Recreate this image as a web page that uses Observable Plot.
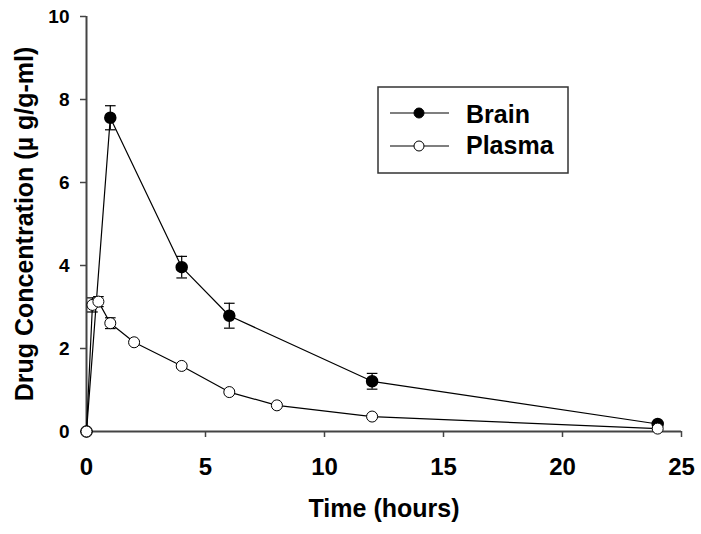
<!DOCTYPE html>
<html>
<head>
<meta charset="utf-8">
<script src="https://cdn.jsdelivr.net/npm/d3@7"></script>
<script src="https://cdn.jsdelivr.net/npm/@observablehq/plot@0.6"></script>
<style>
  html, body { margin: 0; padding: 0; background: #fff; }
  #wrap { position: relative; width: 701px; height: 534px; font-family: "Liberation Sans", Arial, sans-serif; }
  #legend { position: absolute; left: 377px; top: 86px; }
</style>
</head>
<body>
<div id="wrap">
  <div id="chart"></div>
  <svg id="legend" width="194" height="90">
    <rect x="1" y="1" width="190" height="86" fill="#fff" stroke="#333" stroke-width="1.5"/>
    <line x1="13" x2="72" y1="27" y2="27" stroke="#000" stroke-width="1.2"/>
    <circle cx="42" cy="27" r="5" fill="#000" stroke="#000"/>
    <line x1="13" x2="72" y1="60" y2="60" stroke="#000" stroke-width="1.2"/>
    <circle cx="42" cy="60" r="5" fill="#fff" stroke="#000"/>
    <text x="89" y="37" font-family="'Liberation Sans', Arial, sans-serif" font-weight="bold" font-size="25" fill="#000">Brain</text>
    <text x="89" y="68" font-family="'Liberation Sans', Arial, sans-serif" font-weight="bold" font-size="25" fill="#000">Plasma</text>
  </svg>
</div>
<script>
// Data
const brainTime = [0, 1, 4, 6, 12, 24];
const brainConc = [0, 7.56, 3.96, 2.79, 1.21, 0.18];
const brainErr  = [0, 0.29, 0.26, 0.30, 0.19, 0];

const plasmaTime = [0, 0.25, 0.5, 1, 2, 4, 6, 8, 12, 24];
const plasmaConc = [0, 3.05, 3.13, 2.61, 2.15, 1.58, 0.95, 0.63, 0.36, 0.07];
const plasmaErr  = [0, 0.17, 0.12, 0.13, 0.03, 0.05, 0.04, 0.03, 0.03, 0.02];

const xTicks = [0, 5, 10, 15, 20, 25];
const yTicks = [0, 2, 4, 6, 8, 10];
const xTitle = "Time (hours)";
const yTitle = "Drug Concentration (\u00b5 g/g-ml)";

const brain = brainTime.map((t, i) => ({t, c: brainConc[i], e: brainErr[i]}));
const plasma = plasmaTime.map((t, i) => ({t, c: plasmaConc[i], e: plasmaErr[i]}));

const cap = {
  draw(ctx, size) {
    const w = Math.sqrt(size) / 2;
    ctx.moveTo(-w, 0);
    ctx.lineTo(w, 0);
  }
};

const errMarks = (data) => {
  const d = data.filter(r => r.e > 0);
  return [
    Plot.ruleX(d, {x: "t", y1: r => r.c - r.e, y2: r => r.c + r.e, stroke: "#000", strokeWidth: 1.2}),
    Plot.dot(d, {x: "t", y: r => r.c + r.e, symbol: cap, r: 6, fill: "none", stroke: "#000", strokeWidth: 1.2}),
    Plot.dot(d, {x: "t", y: r => r.c - r.e, symbol: cap, r: 6, fill: "none", stroke: "#000", strokeWidth: 1.2})
  ];
};

const chart = Plot.plot({
  width: 701,
  height: 534,
  marginLeft: 86,
  marginRight: 20,
  marginTop: 16,
  marginBottom: 103,
  style: {fontFamily: "'Liberation Sans', Arial, sans-serif", background: "#fff", color: "#000"},
  x: {domain: [0, 25]},
  y: {domain: [0, 10]},
  marks: [
    Plot.axisX({ticks: xTicks, tickSize: 6, tickPadding: 20, fontSize: 24, fontWeight: "bold", label: null, stroke: "#444", strokeWidth: 1.5}),
    Plot.axisY({ticks: yTicks, tickSize: 6, tickPadding: 11, fontSize: 19, fontWeight: "bold", label: null, stroke: "#444", strokeWidth: 1.5}),
    Plot.ruleY([0], {stroke: "#444", strokeWidth: 2}),
    Plot.ruleX([0], {stroke: "#444", strokeWidth: 2}),
    Plot.text([xTitle], {frameAnchor: "bottom", dy: 85, fontSize: 25, fontWeight: "bold", fill: "#000"}),
    Plot.text([yTitle], {frameAnchor: "left", dx: -62, rotate: -90, textAnchor: "middle", fontSize: 25, fontWeight: "bold", fill: "#000"}),
    ...errMarks(brain),
    ...errMarks(plasma),
    Plot.line(brain, {x: "t", y: "c", stroke: "#000", strokeWidth: 1.2}),
    Plot.line(plasma, {x: "t", y: "c", stroke: "#000", strokeWidth: 1.2}),
    Plot.dot(brain, {x: "t", y: "c", r: 5.5, fill: "#000", stroke: "#000"}),
    Plot.dot(plasma, {x: "t", y: "c", r: 5.5, fill: "#fff", stroke: "#000", strokeWidth: 1})
  ]
});
chart.style.overflow = "visible";
document.getElementById("chart").appendChild(chart);
</script>
</body>
</html>
